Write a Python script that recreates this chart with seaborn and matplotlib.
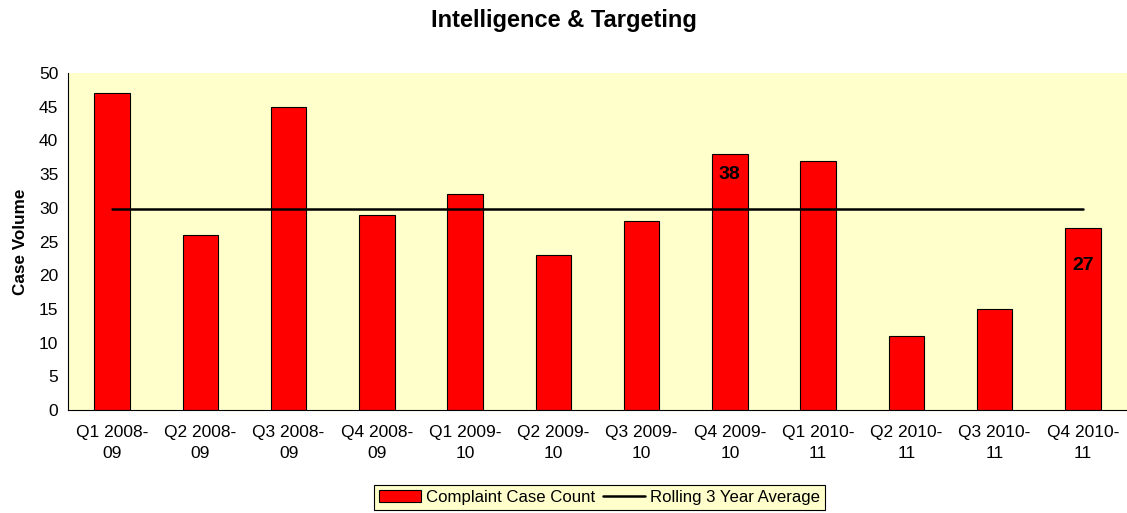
import numpy as np
import pandas as pd
import seaborn as sns
import matplotlib.pyplot as plt

# Quarter labels and values
quarters = ["Q1 2008-\n09", "Q2 2008-\n09", "Q3 2008-\n09", "Q4 2008-\n09",
            "Q1 2009-\n10", "Q2 2009-\n10", "Q3 2009-\n10", "Q4 2009-\n10",
            "Q1 2010-\n11", "Q2 2010-\n11", "Q3 2010-\n11", "Q4 2010-\n11"]
case_counts = [47, 26, 45, 29, 32, 23, 28, 38, 37, 11, 15, 27]
rolling_avg = [29.8, 29.8, 29.8, 29.8, 29.8, 29.8, 29.8, 29.8, 29.8, 29.8, 29.8, 29.8]
# bar labels shown inside two bars (quarter index, label y)
label_idx = [7, 11]
label_y = [34.9, 21.5]

BG = "#FFFFCC"

df = pd.DataFrame({"quarter": quarters, "count": case_counts, "avg": rolling_avg})

sns.set_style("white")
plt.rcParams["font.family"] = ["Liberation Sans", "DejaVu Sans"]
plt.rcParams["text.color"] = "black"
plt.rcParams["axes.labelcolor"] = "black"
plt.rcParams["xtick.color"] = "black"
plt.rcParams["ytick.color"] = "black"

fig = plt.figure(figsize=(11.27, 5.13), dpi=100)
ax = fig.add_axes([68 / 1127, 103 / 513, 1 - 68 / 1127, 337 / 513])
ax.set_facecolor(BG)

sns.barplot(data=df, x="quarter", y="count", color="#FF0000", edgecolor="black",
            linewidth=0.8, width=0.4, saturation=1, ax=ax,
            label="Complaint Case Count")
sns.lineplot(data=df, x="quarter", y="avg", color="black", linewidth=1.8,
             sort=False, ax=ax, label="Rolling 3 Year Average")

for i, y in zip(label_idx, label_y):
    ax.text(i, y, str(case_counts[i]), ha="center", va="center",
            fontsize=14, fontweight="bold", color="black")

ax.set_xlim(-0.5, len(quarters) - 0.5)
ax.set_ylim(0, 50)
ax.set_yticks(np.arange(0, 51, 5))
ax.tick_params(axis="y", length=4, width=0.8, labelsize=12.5, pad=3)
ax.tick_params(axis="x", length=0, labelsize=12.5, pad=11)
for lbl in ax.get_xticklabels():
    lbl.set_linespacing(1.5)

for side in ["top", "right"]:
    ax.spines[side].set_visible(False)
for side in ["left", "bottom"]:
    ax.spines[side].set_color("black")
    ax.spines[side].set_linewidth(0.8)

ax.set_xlabel("")
ax.set_ylabel("Case Volume", fontsize=12.3, fontweight="bold", labelpad=8)

fig.suptitle("Intelligence & Targeting", fontsize=17, fontweight="bold", y=0.982)

handles, labels = ax.get_legend_handles_labels()
order = [labels.index("Complaint Case Count"), labels.index("Rolling 3 Year Average")]
leg = ax.legend([handles[k] for k in order], [labels[k] for k in order],
                loc="upper center", bbox_to_anchor=(0.502, -0.222), ncol=2,
                fontsize=12.1, frameon=True, fancybox=False, facecolor=BG,
                edgecolor="black", framealpha=1, borderpad=0.3,
                handlelength=2.5, handletextpad=0.3, columnspacing=0.5,
                borderaxespad=0)
leg.get_frame().set_linewidth(0.8)

plt.savefig("out.png", dpi=100)
plt.close()
